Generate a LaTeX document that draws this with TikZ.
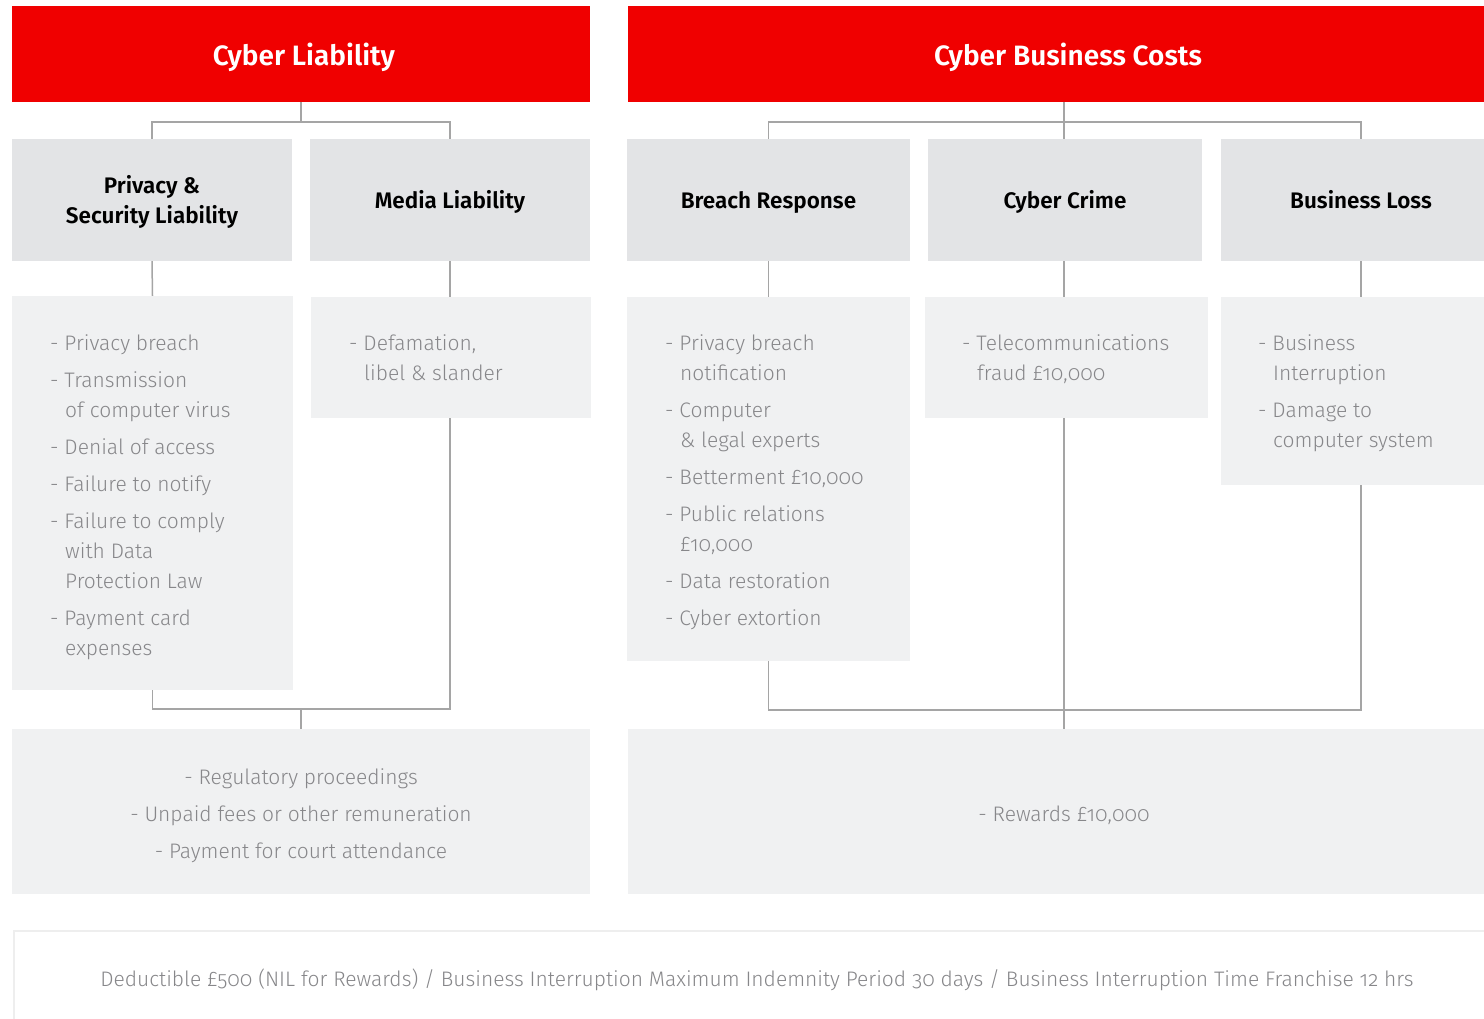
\documentclass[tikz,border=0pt]{standalone}
\usepackage{fontspec}
\setmainfont{Fira Sans}[Numbers=OldStyle, UprightFont=* Light, BoldFont=* SemiBold]
\definecolor{hred}{RGB}{240,0,0}
\definecolor{hgray}{RGB}{227,228,230}
\definecolor{cgray}{RGB}{240,241,242}
\definecolor{tgray}{RGB}{135,135,138}
\definecolor{lgray}{RGB}{165,165,165}
\definecolor{fgray}{RGB}{238,238,238}
\tikzset{
  redbox/.style={fill=hred, inner sep=0pt},
  redlabel/.style={text=white, font=\fontsize{28}{32}\selectfont\bfseries, inner sep=0pt, anchor=base},
  headbox/.style={fill=hgray, inner sep=0pt},
  headlabel/.style={text=black, font=\fontsize{22.5}{30}\selectfont\bfseries, inner sep=0pt, anchor=base},
  contbox/.style={fill=cgray, inner sep=0pt},
  listtext/.style={text=tgray, font=\fontsize{21}{30}\selectfont, align=left, anchor=north west, inner sep=0pt},
  centertext/.style={text=tgray, font=\fontsize{21}{37}\selectfont, align=center, inner sep=0pt},
  conn/.style={draw=lgray, line width=1.5pt}
}
\newcommand{\ind}{\hspace*{15pt}}
\begin{document}
\begin{tikzpicture}[x=1pt,y=-1pt]
\useasboundingbox (0,0) rectangle (1484,1019);
\fill[white] (0,0) rectangle (1484,1019);
% red headers
\node[redbox, minimum width=578pt, minimum height=96pt] (cl) at (301,54) {};
\node[redbox, minimum width=880pt, minimum height=96pt] (cbc) at (1068,54) {};
\node[redlabel] (cll) at (304,66) {Cyber Liability};
\node[redlabel] (cbcl) at (1068,66) {Cyber Business Costs};
% sub headers
\node[headbox, minimum width=280pt, minimum height=122pt] (psl) at (152,200) {};
\node[headbox, minimum width=280pt, minimum height=122pt] (ml) at (450,200) {};
\node[headbox, minimum width=283pt, minimum height=122pt] (br) at (768.5,200) {};
\node[headbox, minimum width=274pt, minimum height=122pt] (cc) at (1065,200) {};
\node[headbox, minimum width=280pt, minimum height=122pt] (bl) at (1361,200) {};
\node[headlabel] (psll1) at (152,194) {Privacy \&};
\node[headlabel] (psll2) at (152,224) {Security Liability};
\node[headlabel] (mll) at (450,209) {Media Liability};
\node[headlabel] (brl) at (768.5,209) {Breach Response};
\node[headlabel] (ccl) at (1065,209) {Cyber Crime};
\node[headlabel] (bll) at (1361,209) {Business Loss};
% content boxes
\path[contbox] (12,296) rectangle (293,690);
\node[minimum width=281pt, minimum height=394pt, inner sep=0pt] (pslc) at (152.5,493) {};
\path[contbox] (311,297) rectangle (591,418);
\node[minimum width=280pt, minimum height=121pt, inner sep=0pt] (mlc) at (450,357.5) {};
\path[contbox] (627,297) rectangle (910,661);
\node[minimum width=283pt, minimum height=364pt, inner sep=0pt] (brc) at (768.5,479) {};
\path[contbox] (925,297) rectangle (1208,418);
\node[minimum width=283pt, minimum height=121pt, inner sep=0pt] (ccc) at (1064,357.5) {};
\path[contbox] (1221,297) rectangle (1502,485);
\node[minimum width=281pt, minimum height=188pt, inner sep=0pt] (blc) at (1361.5,391) {};
% list texts
\node[listtext] (t1) at (50,334.5) {- Privacy breach\\[7pt]
- Transmission\\ \ind of computer virus\\[7pt]
- Denial of access\\[7pt]
- Failure to notify\\[7pt]
- Failure to comply\\ \ind with Data\\ \ind Protection Law\\[7pt]
- Payment card\\ \ind expenses};
\node[listtext] (t2) at (349,334.5) {- Defamation,\\ \ind libel \& slander};
\node[listtext] (t3) at (665,334.5) {- Privacy breach\\ \ind notification\\[7pt]
- Computer\\ \ind \& legal experts\\[7pt]
- Betterment £10,000\\[7pt]
- Public relations\\ \ind £10,000\\[7pt]
- Data restoration\\[7pt]
- Cyber extortion};
\node[listtext] (t4) at (962,334.5) {- Telecommunications\\ \ind fraud £10,000};
\node[listtext] (t5) at (1258,334.5) {- Business\\ \ind Interruption\\[7pt]
- Damage to\\ \ind computer system};
% bottom boxes
\node[contbox, minimum width=578pt, minimum height=165pt] (botl) at (301,811.5) {};
\node[contbox, minimum width=874pt, minimum height=165pt] (botr) at (1065,811.5) {};
\node[centertext] (bt1) at (301,816) {- Regulatory proceedings\\- Unpaid fees or other remuneration\\- Payment for court attendance};
\node[centertext] (bt2) at (1064,815) {- Rewards £10,000};
% footer
\node[draw=fgray, line width=2.5pt, fill=white, minimum width=1488pt, minimum height=100pt, inner sep=0pt] (foot) at (758,981) {};
\node[text=tgray, font=\fontsize{21}{25}\selectfont, inner sep=0pt] (ft) at (757,980) {Deductible £500 (NIL for Rewards) / Business Interruption Maximum Indemnity Period 30 days / Business Interruption Time Franchise 12 hrs};
% connectors top
\coordinate (j1) at (301,122);
\coordinate (j2) at (1064,122);
\draw[conn] (cl.south) -- (j1);
\draw[conn] (psl.north) |- (j1) -| (ml.north);
\draw[conn] (cbc.south -| j2) -- (j2);
\draw[conn] (br.north) |- (j2) -| (bl.north);
\draw[conn] (j2) -- (cc.north -| j2);
% header to content
\draw[conn] (psl.south) -- (pslc.north);
\draw[conn] (ml.south) -- (mlc.north);
\draw[conn] (br.south) -- (brc.north);
\draw[conn] (cc.south -| j2) -- (ccc.north -| j2);
\draw[conn] (bl.south) -- (bl.south |- blc.north);
% bottom connectors
\coordinate (j3) at (301,709);
\coordinate (j4) at (1064,710);
\draw[conn] (pslc.south) |- (j3) -| (mlc.south);
\draw[conn] (j3) -- (botl.north -| j3);
\draw[conn] (brc.south) |- (j4) -| (bl.south |- blc.south);
\draw[conn] (ccc.south -| j4) -- (botr.north -| j4);
\end{tikzpicture}
\end{document}
